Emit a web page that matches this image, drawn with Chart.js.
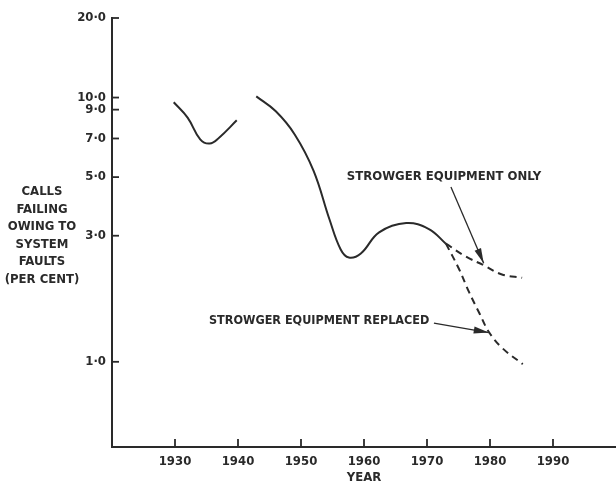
<!DOCTYPE html>
<html><head><meta charset="utf-8">
<script src="https://cdn.jsdelivr.net/npm/chart.js@4/dist/chart.umd.min.js"></script>
<style>html,body{margin:0;padding:0;background:#fff}#wrap{width:616px;height:494px}</style>
</head><body><div id="wrap"><canvas id="c" width="616" height="494"></canvas></div>
<script>
// ---- data ----
const earlyYears   = [1929.8, 1932.0, 1934.0, 1935.5, 1937.0, 1939.8];
const earlyValues  = [9.6, 8.4, 6.95, 6.7, 7.05, 8.2];
const postwarYears = [1942.9, 1946.0, 1949.0, 1952.0, 1954.5, 1956.3, 1957.6, 1959.5, 1962.4, 1966.7, 1970.3, 1973.0];
const postwarValues= [10.1, 8.87, 7.25, 5.28, 3.47, 2.66, 2.48, 2.57, 3.09, 3.35, 3.18, 2.8];
const onlyYears    = [1973.0, 1976.2, 1979.0, 1981.9, 1985.1];
const onlyValues   = [2.8, 2.5, 2.32, 2.14, 2.08];
const replacedYears  = [1973.0, 1975.1, 1976.7, 1978.3, 1979.8, 1981.9, 1985.2];
const replacedValues = [2.8, 2.24, 1.83, 1.53, 1.30, 1.13, 0.98];
const yearTicks = [1930, 1940, 1950, 1960, 1970, 1980, 1990];
const rateTicks = [1, 3, 5, 7, 9, 10, 20];
const yTitleLines = ["CALLS", "FAILING", "OWING TO", "SYSTEM", "FAULTS", "(PER CENT)"];
const xTitle = "YEAR";
const labelOnly = "STROWGER EQUIPMENT ONLY";
const labelReplaced = "STROWGER EQUIPMENT REPLACED";

// ---- styling ----
const INK = '#2a2a2a';
const FONT_FAMILY = '"DejaVu Sans Condensed", "DejaVu Sans", sans-serif';
const pts = (xs, ys) => xs.map((x, i) => ({x: x, y: ys[i]}));
const fmt = v => Number(v).toFixed(1).replace('.', '\u00B7');

const annotations = {
  id: 'annotations',
  afterDraw(chart) {
    const ctx = chart.ctx, xs = chart.scales.x, ys = chart.scales.y;
    const X = v => xs.getPixelForValue(v), Y = v => ys.getPixelForValue(v);
    ctx.save();
    ctx.strokeStyle = INK; ctx.fillStyle = INK; ctx.lineWidth = 1.8;
    // inward tick marks
    ys.ticks.forEach(t => {
      const y = Y(t.value);
      ctx.beginPath(); ctx.moveTo(xs.left, y); ctx.lineTo(xs.left + 7, y); ctx.stroke();
    });
    xs.ticks.forEach(t => {
      const x = X(t.value);
      ctx.beginPath(); ctx.moveTo(x, ys.bottom); ctx.lineTo(x, ys.bottom - 8); ctx.stroke();
    });
    // y title, stacked lines
    ctx.font = 'bold 13px ' + FONT_FAMILY;
    ctx.textAlign = 'center'; ctx.textBaseline = 'middle';
    yTitleLines.forEach((s, i) => ctx.fillText(s, 42, 192 + i * 17.5));
    // annotations
    const arrow = (x0, y0, x1, y1) => {
      ctx.lineWidth = 1.3;
      ctx.beginPath(); ctx.moveTo(x0, y0); ctx.lineTo(x1, y1); ctx.stroke();
      const a = Math.atan2(y1 - y0, x1 - x0), L = 15, W = 3.5;
      ctx.beginPath();
      ctx.moveTo(x1, y1);
      ctx.lineTo(x1 - L * Math.cos(a) + W * Math.sin(a), y1 - L * Math.sin(a) - W * Math.cos(a));
      ctx.lineTo(x1 - L * Math.cos(a) - W * Math.sin(a), y1 - L * Math.sin(a) + W * Math.cos(a));
      ctx.closePath(); ctx.fill();
    };
    ctx.textAlign = 'center';
    ctx.fillText(labelOnly, X(1972.7), Y(5.0));
    arrow(X(1973.8), Y(4.59), X(1979.0), Y(2.36));
    ctx.textAlign = 'left';
    ctx.font = 'bold 12.5px ' + FONT_FAMILY;
    ctx.fillText(labelReplaced, X(1935.4), Y(1.43));
    arrow(X(1971.1), Y(1.40), X(1979.8), Y(1.29));
    ctx.restore();
  }
};

const lineStyle = {borderColor: INK, borderWidth: 2, pointRadius: 0, fill: false, tension: 0.4};

new Chart(document.getElementById('c'), {
  type: 'line',
  data: {
    datasets: [
      Object.assign({label: 'early', data: pts(earlyYears, earlyValues)}, lineStyle),
      Object.assign({label: 'postwar', data: pts(postwarYears, postwarValues)}, lineStyle),
      Object.assign({label: 'only', data: pts(onlyYears, onlyValues), borderDash: [7, 5]}, lineStyle),
      Object.assign({label: 'replaced', data: pts(replacedYears, replacedValues), borderDash: [7, 5]}, lineStyle)
    ]
  },
  options: {
    responsive: false, animation: false, devicePixelRatio: 1,
    layout: {padding: {top: 18, left: 0, right: 0, bottom: 0}},
    plugins: {legend: {display: false}, tooltip: {enabled: false}},
    scales: {
      x: {
        type: 'linear', min: 1920, max: 2000,
        afterBuildTicks: s => { s.ticks = yearTicks.map(v => ({value: v})); },
        afterFit: s => { s.height = 47; },
        grid: {display: true, drawOnChartArea: false, drawTicks: false},
        border: {display: true, color: INK, width: 2},
        ticks: {color: INK, font: {family: FONT_FAMILY, size: 13, weight: 'bold'}, padding: 7, maxRotation: 0, autoSkip: false, callback: v => String(v)},
        title: {display: true, text: xTitle, color: INK, font: {family: FONT_FAMILY, size: 13, weight: 'bold'}, padding: {top: 2, bottom: 9}}
      },
      y: {
        type: 'logarithmic', min: 0.476, max: 20,
        afterBuildTicks: s => { s.ticks = rateTicks.map(v => ({value: v})); },
        afterFit: s => { s.width = 112; },
        grid: {display: true, drawOnChartArea: false, drawTicks: false},
        border: {display: true, color: INK, width: 2},
        ticks: {color: INK, font: {family: FONT_FAMILY, size: 13, weight: 'bold'}, padding: 6, autoSkip: false, callback: v => fmt(v)}
      }
    }
  },
  plugins: [annotations]
});
</script>
</body></html>
